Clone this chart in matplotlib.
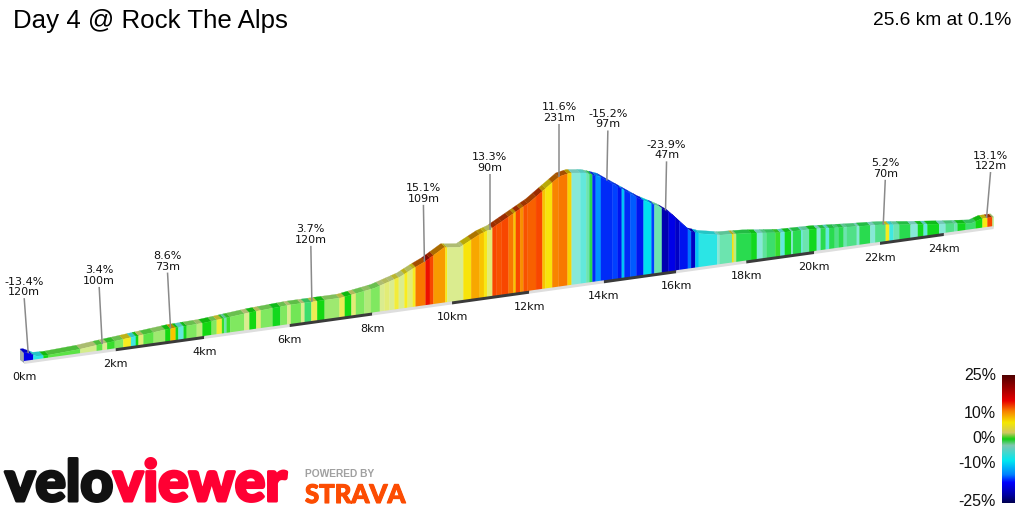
import numpy as np
import matplotlib
matplotlib.use('Agg')
import matplotlib.pyplot as plt
import matplotlib.patheffects as pe
from matplotlib.colors import LinearSegmentedColormap, Normalize, to_rgb
from matplotlib.patches import Polygon

TITLE = 'Day 4 @ Rock The Alps'
SUMMARY = '25.6 km at 0.1%'

# elevation profile
profile_km = [0.0, 0.06, 0.27, 0.48, 1.22, 1.64, 2.18, 3.2, 4.0, 5.06, 6.0, 6.74, 7.23, 8.05, 8.7, 9.0,
              9.33, 9.8, 10.2, 10.7, 11.0, 12.0, 12.8, 13.07, 13.47, 13.9, 14.17, 15.0, 15.55, 15.83,
              16.4, 16.7, 17.26, 18.0, 19.0, 20.0, 21.1, 22.0, 22.94, 24.0, 24.9, 25.2, 25.45, 25.6]
profile_m = [60, 60, 27, 23, 34, 47, 61, 89, 97, 126, 141, 142, 142, 179, 237, 281,
             325, 407, 394, 469, 499, 659, 826, 843, 831, 789, 738, 584, 504, 450,
             291, 261, 231, 219, 188, 181, 159, 144, 113, 81, 57, 82, 82, 82]

# upper end of each coloured segment and its gradient in percent
seg_end = [0.2, 0.42, 0.53, 1.22, 1.58, 1.71, 1.81, 1.98, 2.17, 2.34, 2.45, 2.51, 2.62, 2.85, 3.11, 3.23,
           3.35, 3.41, 3.53, 3.6, 3.83, 3.96, 4.17, 4.29, 4.41, 4.46, 4.52, 4.6, 4.93, 5.05, 5.21, 5.32,
           5.6, 5.78, 5.94, 6.03, 6.27, 6.36, 6.52, 6.66, 6.84, 7.2, 7.33, 7.49, 7.6, 7.81, 7.97, 8.19,
           8.3, 8.43, 8.55, 8.66, 8.8, 8.88, 9.01, 9.08, 9.33, 9.44, 9.53, 9.83, 9.88, 10.23, 10.29, 10.49,
           10.71, 10.82, 10.9, 11.04, 11.15, 11.28, 11.46, 11.59, 11.65, 11.76, 11.85, 11.96, 12.18, 12.35,
           12.43, 12.61, 12.78, 13.02, 13.13, 13.36, 13.52, 13.61, 13.69, 13.78, 13.92, 14.24, 14.38, 14.49,
           14.56, 14.72, 14.89, 15.09, 15.31, 15.39, 15.6, 15.79, 15.97, 16.09, 16.33, 16.42, 16.54, 16.64,
           17.16, 17.24, 17.59, 17.64, 17.71, 18.14, 18.31, 18.48, 18.59, 18.85, 19.0, 19.13, 19.32, 19.37,
           19.61, 19.66, 19.85, 20.08, 20.2, 20.35, 20.45, 20.62, 20.74, 20.89, 20.99, 21.29, 21.37, 21.7,
           21.85, 22.18, 22.29, 22.42, 22.6, 22.95, 23.18, 23.36, 23.48, 23.85, 24.06, 24.33, 24.44, 24.7,
           25.02, 25.24, 25.4, 25.56, 25.6]
seg_grad = [-18, -7, 0.5, 1.5, 3.4, 1.5, 3.5, 1, 2, 5.5, -6, 0.5, 4, 1.5, 2.5, 0.5,
            8, 0, -5, 0, 2, 3, 0.5, 2, 5, 1, -3, 1, 2, 3.5, 0.5, 4,
            2, 0, 2, 3.5, 1.8, 3.5, -1.5, 4.5, 0.5, 2.5, 4.5, 0.5, 4, 2, 2.8, 2,
            3.5, 4, 3.5, 5, 3.5, 5.5, 4, 5.5, 11, 16, 13, 9.5, 6, 3.5, 3.5, 6.5,
            9, 8, 6, 4, 13, 12.5, 13, 11, 8, 13, 10, 12.5, 12, 13,
            8, 6.5, 10.5, 11, 7.5, -4, -5, -3, -1, -16, -12, -16, -15, -17,
            -10, -16, -14, -17, -9, -15, -3, -21, -18, -20, -17, -13, -20, -10,
            -7, -4, -3, 7, 3, -1, 0, -4, -2.5, -1.5, 1, -5, 0, -4,
            -1, -5, -3, 0, -4, -1, -5, -1, -2, -1, -3, -2, -4, -1,
            -4, -2, 5.5, -6, -3, -1, -4, 0, -5, 0, -4, -2, -3, 0,
            -1.5, 0.5, 6, 13, 3]

# callouts
callout_km = [0.09, 1.7, 3.23, 6.53, 9.3, 10.97, 12.8, 14.08, 15.7, 22.1, 25.37]
callout_grad = ['-13.4%', '3.4%', '8.6%', '3.7%', '15.1%', '13.3%', '11.6%', '-15.2%', '-23.9%', '5.2%', '13.1%']
callout_len = ['120m', '100m', '73m', '120m', '109m', '90m', '231m', '97m', '47m', '70m', '122m']
callout_lean = [-4, -3, -3, -1, -1, 0, 0, 1, 1, 2, 4]
callout_rise = [55, 57, 56, 56, 57, 56, 53, 50, 49, 45, 46]

km_ticks = [0, 2, 4, 6, 8, 10, 12, 14, 16, 18, 20, 22, 24]
total_km = 25.6

# colour scale, gradient percent to colour
face_stops = [(-25, '#000050'), (-22, '#0000a0'), (-18, '#0000e8'), (-15, '#0040ff'), (-12, '#0090ff'),
              (-9, '#00e0f0'), (-6, '#40e8e0'), (-4, '#88e8d8'), (-2, '#50e088'), (-0.5, '#14d830'),
              (0.5, '#10d810'), (2, '#80e860'), (3.5, '#dcec90'), (5.5, '#f8ec20'), (7, '#f8e000'),
              (9, '#f8a800'), (11, '#f87800'), (13, '#f84800'), (15, '#f02000'), (17, '#e80000'),
              (25, '#500000')]
bar_stops = [(-25, '#000050'), (-22, '#0000a0'), (-17, '#0000ff'), (-14, '#0080ff'), (-8.5, '#00e8f0'),
             (-2.5, '#80c8b0'), (0, '#10d010'), (2.5, '#d0c860'), (6.5, '#f5e800'), (11, '#f88000'),
             (15, '#e80000'), (25, '#500000')]
bar_ticks = [25, 10, 0, -10, -25]


def make_cmap(stops):
    """Build a colormap over -25..25 from (gradient, colour) stops."""
    return LinearSegmentedColormap.from_list(
        'grad', [((g + 25) / 50, c) for g, c in stops], N=512)


def project(km, elev=0.0):
    """Perspective projection of distance and height to picture pixels."""
    km = np.asarray(km, dtype=float)
    elev = np.asarray(elev, dtype=float)
    scale = 1 / (1 + 0.0091 * km)
    return 24 + 46.7 * km * scale, 362 - (6.5 * km + 0.15 * elev) * scale


def depth(km):
    """Offset from the front edge of the ribbon to its back edge."""
    return -4.0 / (1 + 0.0091 * km)


def draw_profile(ax, cmap, norm):
    starts = [0.0] + seg_end[:-1]
    # side wall at the start
    x0, y0 = project(0.0)
    xt, yt = project(0.0, profile_m[0])
    d = depth(0.0)
    ax.add_patch(Polygon([(x0, y0 + 1), (xt, yt), (xt + d, yt + d), (x0 + d, y0 - 2)], fc='#a2aaaa', ec='none', zorder=1))
    # top of the ribbon first, front faces go over it
    for a, b, g in zip(starts, seg_end, seg_grad):
        kms = np.array([a] + [k for k in profile_km if a < k < b] + [b])
        xs, ys = project(kms, np.interp(kms, profile_km, profile_m))
        d = depth(kms)
        # steeper climbs look darker on top
        col = np.array(to_rgb(cmap(norm(g)))) * (0.86 - 0.018 * max(g, 0))
        pts = list(zip(xs, ys)) + list(zip(xs + d, ys + d))[::-1]
        ax.add_patch(Polygon(pts, fc=col, ec=col, lw=0.2, zorder=2))
    for a, b, g in zip(starts, seg_end, seg_grad):
        kms = np.array([a] + [k for k in profile_km if a < k < b] + [b])
        xs, ys = project(kms, np.interp(kms, profile_km, profile_m))
        xb, yb = project(kms)
        col = cmap(norm(g))
        pts = list(zip(xs, ys)) + list(zip(xb, yb))[::-1]
        ax.add_patch(Polygon(pts, fc=col, ec=col, lw=0.2, zorder=3))


def draw_base(ax):
    """Alternating distance strip along the bottom of the ribbon."""
    edges = km_ticks + [total_km]
    for i in range(len(edges) - 1):
        xa, ya = project(edges[i])
        xb, yb = project(edges[i + 1])
        col = '#3a3a3a' if i % 2 == 1 else '#dedede'
        ax.add_patch(Polygon([(xa, ya - 1), (xb, yb - 1), (xb, yb + 2), (xa, ya + 2)], fc=col, ec='none', zorder=4))
    for k in km_ticks:
        x, y = project(k)
        ax.text(x, y + 15, '%dkm' % k, ha='center', va='center', fontsize=8, color='#111111', zorder=6)


def draw_callouts(ax):
    for k, grad, length, lean, rise in zip(callout_km, callout_grad, callout_len, callout_lean, callout_rise):
        x, y = project(k, np.interp(k, profile_km, profile_m))
        ax.plot([x, x + lean], [y, y - rise], color='#8a8a8a', lw=1.1, zorder=5, solid_capstyle='butt')
        ax.text(x + lean, y - rise - 16.5, grad, ha='center', va='center', fontsize=8, color='#111111', zorder=6)
        ax.text(x + lean, y - rise - 6, length, ha='center', va='center', fontsize=8, color='#111111', zorder=6)


def draw_colorbar(ax):
    grads = np.linspace(25, -25, 256).reshape(-1, 1)
    ax.imshow(grads, extent=(1002, 1015, 503, 375), cmap=make_cmap(bar_stops), norm=Normalize(-25, 25),
              aspect='auto', zorder=2, interpolation='bilinear')
    for g in bar_ticks:
        y = 375 + (25 - g) / 50 * 127
        ax.text(996, y, '%d%%' % g, ha='right', va='center', fontsize=11.5, family='Liberation Sans', color='#111111')


def draw_logos(ax):
    stroke = [pe.withStroke(linewidth=2.2, foreground='#111111')]
    ax.text(5, 501, 'velo', fontsize=41, family='Lato', weight='black', color='#111111', va='baseline', path_effects=stroke)
    stroke = [pe.withStroke(linewidth=2.2, foreground='#ff0033')]
    ax.text(113, 501, 'viewer', fontsize=41, family='Lato', weight='black', color='#ff0033', va='baseline', path_effects=stroke)
    ax.text(305, 474, 'POWERED BY', fontsize=7.4, family='Liberation Sans', weight='bold', color='#a0a0a0', va='center')
    stroke = [pe.withStroke(linewidth=0.8, foreground='#fc4c02')]
    ax.text(305, 503, 'STRAVA', fontsize=18.5, family='Lato', weight='black', color='#fc4c02', va='baseline', path_effects=stroke)


def main():
    fig = plt.figure(figsize=(10.24, 5.12), dpi=100)
    ax = fig.add_axes([0, 0, 1, 1])
    ax.set_xlim(0, 1024)
    ax.set_ylim(512, 0)
    ax.axis('off')

    cmap = make_cmap(face_stops)
    norm = Normalize(-25, 25)
    draw_profile(ax, cmap, norm)
    draw_base(ax)
    draw_callouts(ax)
    draw_colorbar(ax)
    draw_logos(ax)
    ax.set_xlim(0, 1024)
    ax.set_ylim(512, 0)

    ax.text(13, 28, TITLE, fontsize=18.6, family='Liberation Sans', color='black', va='baseline')
    ax.text(1011, 25, SUMMARY, fontsize=13.8, family='Liberation Sans', color='black', va='baseline', ha='right')

    fig.savefig('out.png', dpi=100)
    plt.close(fig)


if __name__ == '__main__':
    assert len(seg_end) == len(seg_grad), (len(seg_end), len(seg_grad))
    main()
